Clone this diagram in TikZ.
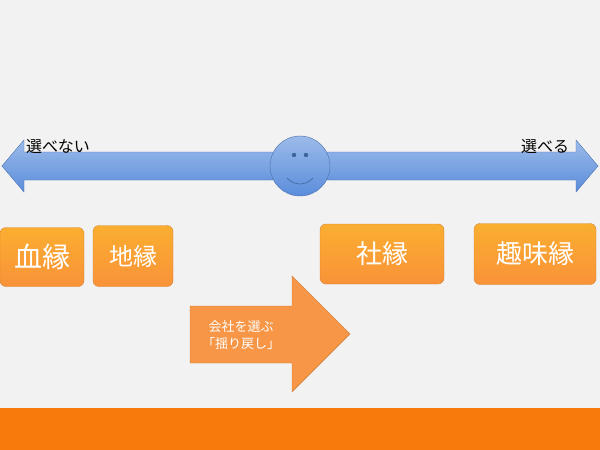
\documentclass[tikz,border=0pt]{standalone}
\usepackage{fontspec}
\setmainfont{Noto Sans CJK JP}
\definecolor{bgray}{HTML}{F2F2F2}
\definecolor{barorange}{HTML}{F77A0B}
\definecolor{boxorange}{HTML}{F99A3C}
\definecolor{arrorange}{HTML}{F79646}
\definecolor{lineblue}{HTML}{5A8DDB}
\tikzset{
  yen/.style={rounded corners=6pt, draw=boxorange!85!black, line width=0.4pt,
    top color=boxorange!80!yellow, bottom color=boxorange!95!red, text=white,
    inner sep=0pt, font=\fontsize{#1}{#1}\selectfont},
  side/.style={font=\fontsize{16}{16}\selectfont, text=black},
  bluefill/.style={top color=lineblue!60!white, bottom color=lineblue,
    draw=lineblue!80!black, line width=0.4pt}
}
\begin{document}
\begin{tikzpicture}[x=1pt,y=-1pt]
  % background and bottom band
  \fill[bgray] (0,0) rectangle (600,450);
  \fill[barorange] (0,408) rectangle (600,450);
  \useasboundingbox (0,0) rectangle (600,450);

  % axis
  \path[bluefill] (2,166) -- (24,140) -- (24,152) -- (576,152) -- (576,140)
    -- (598,166) -- (576,192) -- (576,180) -- (24,180) -- (24,192) -- cycle;
  \node[circle, minimum size=60pt, inner sep=0pt, bluefill] (face) at (300,166) {};
  \fill[lineblue!70!black] (294,155) circle (2.2pt) (306,155) circle (2.2pt);
  \draw[lineblue!70!black, line width=0.6pt] (287,178) .. controls (295,186) and (305,186) .. (313,178);
  \node[side] (no) at (58,147) {選べない};
  \node[side] (yes) at (545,147) {選べる};

  % ties
  \node[yen=28, minimum width=84pt, minimum height=59pt] (blood) at (42,257) {血縁};
  \node[yen=24, minimum width=80pt, minimum height=61pt] (land) at (133,256) {地縁};
  \node[yen=26, minimum width=124pt, minimum height=60pt] (firm) at (382,254) {社縁};
  \node[yen=26, minimum width=122pt, minimum height=61pt] (hobby) at (535,254) {趣味縁};

  % swing back
  \path[fill=arrorange, draw=arrorange!85!black, line width=0.4pt]
    (190,306) -- (292,306) -- (292,276) -- (350,334) -- (292,392)
    -- (292,363) -- (190,363) -- cycle;
  \node[text=white, align=center, font=\fontsize{13}{17}\selectfont] (swingtxt) at (241,335) {会社を選ぶ\\「揺り戻し」};
\end{tikzpicture}
\end{document}
